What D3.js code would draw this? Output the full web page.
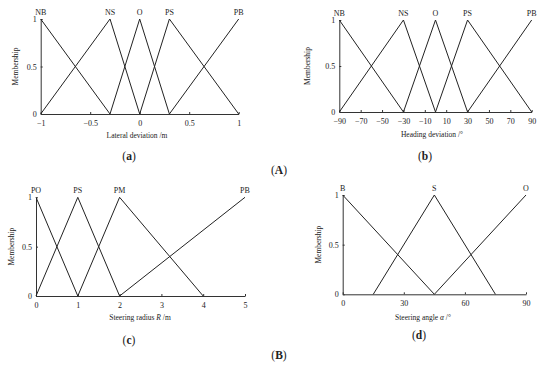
<!DOCTYPE html>
<html lang="en">
<head>
  <meta charset="utf-8">
  <title>Membership functions</title>
  <script src="https://d3js.org/d3.v7.js"></script>
  <style>
    body { margin: 0; background: #fff; }
    text { font-family: "Liberation Serif", "DejaVu Serif", serif; fill: #222; }
  </style>
</head>
<body>
  <div id="my_dataviz"></div>

  <script>
    // Panel (a): lateral deviation
    var latTicks = [-1, -0.5, 0, 0.5, 1];
    var latSets = ["NB", "NS", "O", "PS", "PB"];
    var latPoints = [
      [[-1, 1], [-0.3, 0]],
      [[-1, 0], [-0.3, 1], [0, 0]],
      [[-0.3, 0], [0, 1], [0.3, 0]],
      [[0, 0], [0.3, 1], [1, 0]],
      [[0.3, 0], [1, 1]]
    ];
    var latPeaks = [-1, -0.3, 0, 0.3, 1];

    // Panel (b): heading deviation
    var headTicks = [-90, -70, -50, -30, -10, 10, 30, 50, 70, 90];
    var headSets = ["NB", "NS", "O", "PS", "PB"];
    var headPoints = [
      [[-90, 1], [-30, 0]],
      [[-90, 0], [-30, 1], [0, 0]],
      [[-30, 0], [0, 1], [30, 0]],
      [[0, 0], [30, 1], [90, 0]],
      [[30, 0], [90, 1]]
    ];
    var headPeaks = [-90, -30, 0, 30, 90];

    // Panel (c): steering radius
    var radTicks = [0, 1, 2, 3, 4, 5];
    var radSets = ["PO", "PS", "PM", "PB"];
    var radPoints = [
      [[0, 1], [1, 0]],
      [[0, 0], [1, 1], [2, 0]],
      [[1, 0], [2, 1], [4, 0]],
      [[2, 0], [5, 1]]
    ];
    var radPeaks = [0, 1, 2, 5];

    // Panel (d): steering angle
    var angTicks = [0, 30, 60, 90];
    var angSets = ["B", "S", "O"];
    var angPoints = [
      [[0, 1], [45, 0]],
      [[15, 0], [45, 1], [75, 0]],
      [[45, 0], [90, 1]]
    ];
    var angPeaks = [0, 45, 90];

    var memTicks = [0, 0.5, 1];

    var svg = d3.select("#my_dataviz")
      .append("svg")
      .attr("width", 550)
      .attr("height", 365);

    function drawPanel(p) {
      var x = d3.scaleLinear().domain(p.domain).range([p.x0, p.x1]);
      var y = d3.scaleLinear().domain([0, 1]).range([p.yBot, p.yTop]);
      var g = svg.append("g");

      var xAxis = g.append("g")
        .attr("transform", "translate(0," + p.yBot + ")")
        .call(d3.axisBottom(x).tickValues(p.ticks).tickSize(-2).tickSizeOuter(0).tickPadding(6)
          .tickFormat(d3.format("")));
      var yAxis = g.append("g")
        .attr("transform", "translate(" + p.x0 + ",0)")
        .call(d3.axisLeft(y).tickValues(memTicks).tickSize(-2).tickSizeOuter(0).tickPadding(4)
          .tickFormat(d3.format("")));
      [xAxis, yAxis].forEach(function(a) {
        a.selectAll("path, line").attr("stroke", "#333").attr("stroke-width", 1);
        a.selectAll("text").attr("font-size", 8).attr("font-family", null).style("fill", "#222");
      });

      var line = d3.line().x(function(d) { return x(d[0]); }).y(function(d) { return y(d[1]); });
      g.selectAll(".mf")
        .data(p.points)
        .enter().append("path")
        .attr("d", line)
        .attr("fill", "none")
        .attr("stroke", "#222")
        .attr("stroke-width", 1);

      g.selectAll(".setlabel")
        .data(p.sets)
        .enter().append("text")
        .attr("x", function(d, i) { return x(p.peaks[i]); })
        .attr("y", p.yTop - 4)
        .attr("text-anchor", "middle")
        .attr("font-size", 8)
        .text(function(d) { return d; });

      g.append("text")
        .attr("transform", "translate(" + p.yLabX + "," + (p.yTop + p.yBot) / 2 + ") rotate(-90)")
        .attr("text-anchor", "middle")
        .attr("font-size", 7.5)
        .text("Membership");

      var t = g.append("text")
        .attr("x", p.titleX)
        .attr("y", p.titleY)
        .attr("text-anchor", "middle")
        .attr("font-size", 7.5);
      p.title.forEach(function(s) {
        var ts = t.append("tspan").text(s[0]);
        if (s[1]) ts.attr("font-style", "italic");
      });

      var c = g.append("text")
        .attr("x", p.capX)
        .attr("y", p.capY)
        .attr("text-anchor", "middle")
        .attr("font-size", 11.5);
      c.append("tspan").text("(");
      c.append("tspan").attr("font-weight", "bold").text(p.cap);
      c.append("tspan").text(")");
    }

    drawPanel({domain: [-1, 1], x0: 40.7, x1: 238.7, yTop: 19, yBot: 114,
      ticks: latTicks, sets: latSets, points: latPoints, peaks: latPeaks,
      yLabX: 18, title: [["Lateral deviation /m"]], titleX: 137, titleY: 138,
      cap: "a", capX: 129, capY: 160});
    drawPanel({domain: [-90, 90], x0: 339.3, x1: 531.7, yTop: 20, yBot: 112,
      ticks: headTicks, sets: headSets, points: headPoints, peaks: headPeaks,
      yLabX: 310, title: [["Heading deviation /°"]], titleX: 432, titleY: 137,
      cap: "b", capX: 425, capY: 160});
    drawPanel({domain: [0, 5], x0: 36, x1: 245, yTop: 197.3, yBot: 296,
      ticks: radTicks, sets: radSets, points: radPoints, peaks: radPeaks,
      yLabX: 14, title: [["Steering radius "], ["R", true], [" /m"]], titleX: 140, titleY: 320,
      cap: "c", capX: 129, capY: 344});
    drawPanel({domain: [0, 90], x0: 342.7, x1: 526, yTop: 195, yBot: 294.3,
      ticks: angTicks, sets: angSets, points: angPoints, peaks: angPeaks,
      yLabX: 321, title: [["Steering angle "], ["α", true], [" /°"]], titleX: 423, titleY: 320,
      cap: "d", capX: 419, capY: 339});

    // Group captions
    [["A", 279, 174], ["B", 279, 359]].forEach(function(d) {
      var c = svg.append("text").attr("x", d[1]).attr("y", d[2])
        .attr("text-anchor", "middle").attr("font-size", 11.5);
      c.append("tspan").text("(");
      c.append("tspan").attr("font-weight", "bold").text(d[0]);
      c.append("tspan").text(")");
    });
  </script>
</body>
</html>
